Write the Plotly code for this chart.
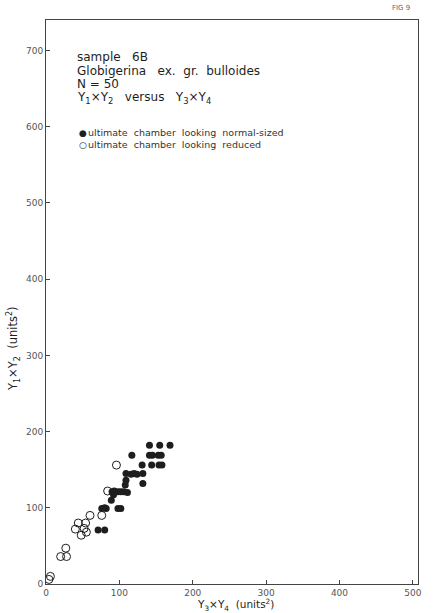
import plotly.graph_objects as go

# filled circles: ultimate chamber looking normal-sized  (x = Y3*Y4, y = Y1*Y2)
normal_x = [141, 155, 169, 117, 141, 145, 153, 157, 131, 144, 154, 158,
            109, 116, 120, 124, 132, 109, 132, 108, 90, 93, 98, 102, 106, 111,
            92, 89, 76, 80, 82, 98, 102, 71, 80]
normal_y = [182, 182, 182, 169, 169, 169, 169, 169, 156, 156, 156, 156,
            145, 144, 145, 144, 145, 136, 132, 130, 121, 122, 121, 121, 121, 120,
            117, 110, 99, 100, 99, 99, 99, 71, 71]

# open circles: ultimate chamber looking reduced
reduced_x = [96, 84, 60, 76, 44, 54, 40, 52, 55, 48, 27, 20, 28, 6, 4]
reduced_y = [156, 122, 90, 90, 80, 80, 72, 73, 68, 64, 47, 36, 36, 10, 6]

x_ticks = [0, 100, 200, 300, 400, 500]
y_ticks = [0, 100, 200, 300, 400, 500, 600, 700]

FONT = "DejaVu Sans"
INK = "#1e1e1e"

fig = go.Figure()
fig.add_trace(go.Scatter(
    x=normal_x, y=normal_y, mode="markers",
    marker=dict(symbol="circle", size=7, color=INK, line=dict(width=0)),
    showlegend=False))
fig.add_trace(go.Scatter(
    x=reduced_x, y=reduced_y, mode="markers",
    marker=dict(symbol="circle-open", size=8, color=INK, line=dict(width=1)),
    showlegend=False))

axis_common = dict(showgrid=False, zeroline=False, showline=True, mirror=True,
                   linecolor="#444", linewidth=1, ticks="inside", ticklen=4,
                   tickcolor="#444", tickfont=dict(family=FONT, size=9, color="#555"))

fig.update_layout(
    width=433, height=613,
    margin=dict(l=46, r=11, t=20, b=29),
    paper_bgcolor="white", plot_bgcolor="white",
    xaxis=dict(range=[0, 507], tickvals=x_ticks, **axis_common),
    yaxis=dict(range=[0, 740], tickvals=y_ticks, **axis_common),
    font=dict(family=FONT, color=INK),
)

nb = "\u00a0"
lines = [
    f"sample{nb*3}6B",
    f"Globigerina{nb*3}ex.{nb*2}gr.{nb*2}bulloides",
    "N = 50",
    f"Y<sub>1</sub>×Y<sub>2</sub>{nb*3}versus{nb*3}Y<sub>3</sub>×Y<sub>4</sub>",
]
ys = [0.934, 0.910, 0.886, 0.861]
for t, yy in zip(lines, ys):
    fig.add_annotation(text=t, xref="paper", yref="paper", x=0.077, y=yy,
                       xanchor="left", yanchor="middle", showarrow=False,
                       font=dict(family=FONT, size=12, color=INK))

leg = [("●", f"ultimate{nb*2}chamber{nb*2}looking{nb*2}normal-sized", 0.800),
       ("○", f"ultimate{nb*2}chamber{nb*2}looking{nb*2}reduced", 0.779)]
for sym, t, yy in leg:
    fig.add_annotation(text=sym, xref="paper", yref="paper", x=0.084, y=yy,
                       xanchor="left", yanchor="middle", showarrow=False,
                       font=dict(family=FONT, size=9, color=INK))
    fig.add_annotation(text=t, xref="paper", yref="paper", x=0.108, y=yy,
                       xanchor="left", yanchor="middle", showarrow=False,
                       font=dict(family=FONT, size=9.5, color="#333"))

fig.add_annotation(text="Y<sub>3</sub>×Y<sub>4</sub>  (units<sup>2</sup>)",
                   xref="paper", yref="paper", x=0.51, y=-0.037,
                   xanchor="center", yanchor="middle", showarrow=False,
                   font=dict(family=FONT, size=10.5, color=INK))
fig.add_annotation(text="Y<sub>1</sub>×Y<sub>2</sub>  (units<sup>2</sup>)",
                   xref="paper", yref="paper", x=-0.088, y=0.417, textangle=-90,
                   xanchor="center", yanchor="middle", showarrow=False,
                   font=dict(family=FONT, size=11.5, color=INK))
fig.add_annotation(text="FIG 9", xref="paper", yref="paper", x=0.955, y=1.022,
                   xanchor="center", yanchor="middle", showarrow=False,
                   font=dict(family=FONT, size=7, color="#666"))

fig.write_html("out.html")
